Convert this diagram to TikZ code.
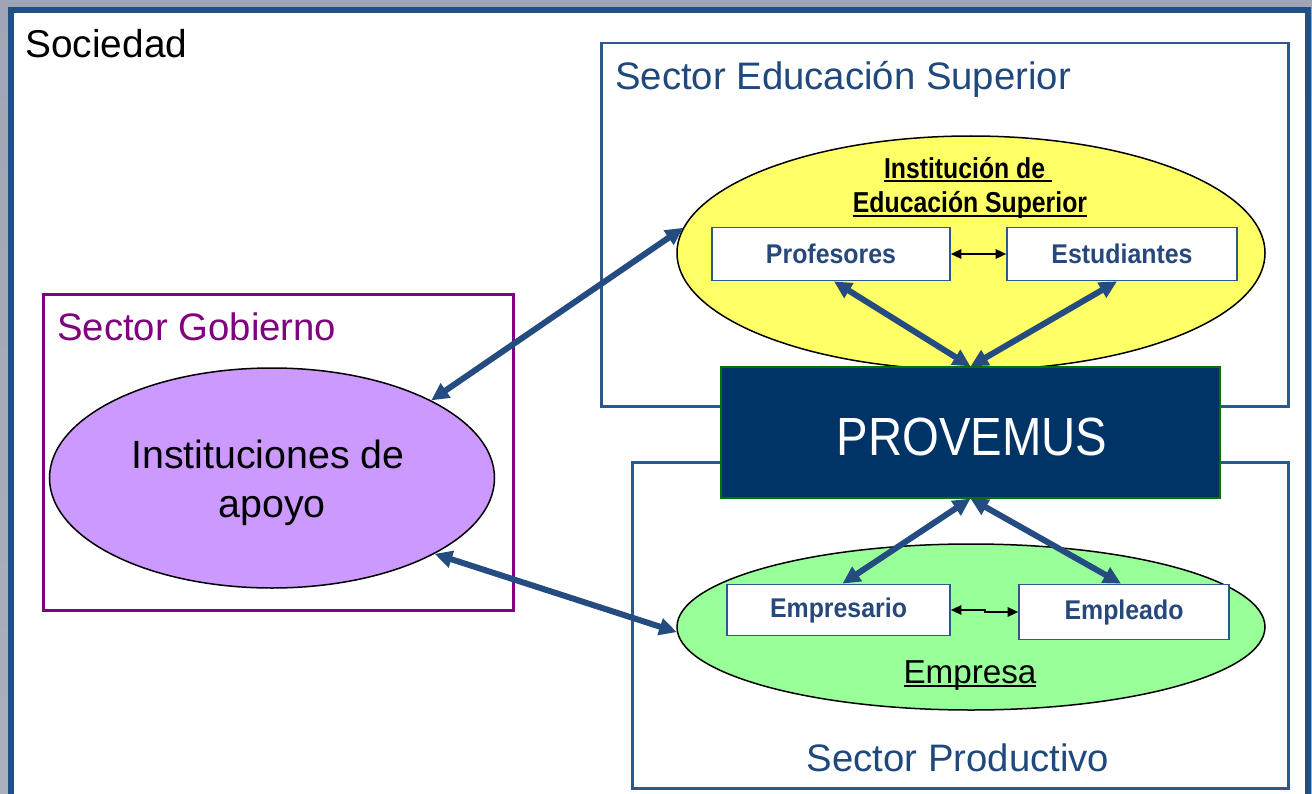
\documentclass[tikz,border=0pt]{standalone}
\usepackage{fontspec}
\setmainfont{Liberation Sans}
\usetikzlibrary{shapes.geometric,arrows.meta,calc}
\newdimen\pxu \pxu=0.02cm
\newcommand{\ulthick}[1]{\setbox0\hbox{#1}\rlap{\rule[-0.13em]{\wd0}{0.065em}}\box0}
\definecolor{frameblue}{RGB}{33,80,132}
\definecolor{secblue}{RGB}{44,88,140}
\definecolor{titleblue}{RGB}{31,73,125}
\definecolor{arrowblue}{RGB}{37,76,128}
\definecolor{navy}{RGB}{0,51,102}
\definecolor{govpurple}{RGB}{128,0,128}
\definecolor{lilac}{RGB}{204,153,255}
\definecolor{lightyellow}{RGB}{255,255,102}
\definecolor{lightgreen}{RGB}{153,255,153}
\definecolor{boxtext}{RGB}{38,72,122}
\definecolor{bgtop}{RGB}{160,164,180}
\definecolor{bgbot}{RGB}{172,176,188}
\tikzset{
  secbox/.style={draw=secblue, line width=2.5\pxu, anchor=north west, inner sep=0pt},
  govbox/.style={draw=govpurple, line width=2.5\pxu, anchor=north west, inner sep=0pt},
  blob/.style={ellipse, draw=black, line width=1.5\pxu, inner sep=0pt},
  smallbox/.style={draw=secblue, line width=1.8\pxu, fill=white, inner sep=0pt,
    text=boxtext, font=\fontsize{15.4pt}{18pt}\selectfont\bfseries},
  sectitle/.style={text=titleblue, font=\fontsize{21.8pt}{26pt}\selectfont, inner sep=0pt},
  bigarrow/.style={arrowblue, line width=6\pxu,
    {Triangle[length=10pt,width=9.5pt]}-{Triangle[length=10pt,width=9.5pt]}},
  thinarrow/.style={black, line width=1.3\pxu,
    {Triangle[length=6pt,width=5.5pt]}-{Triangle[length=6pt,width=5.5pt]}}
}
\begin{document}
\begin{tikzpicture}[x=0.02cm,y=-0.02cm]
\clip (0,0) rectangle (1312,794);
\shade[top color=bgtop, bottom color=bgbot] (0,0) rectangle (1312,794);
\fill[white] (11,10) rectangle (1308,820);
\draw[frameblue, line width=6\pxu] (11,10) rectangle (1308,820);

\node[anchor=base west, inner sep=0pt, font=\fontsize{22.1pt}{26pt}\selectfont] (soc) at (25,58) {Sociedad};

% sector boxes
\node[secbox, minimum width=687\pxu, minimum height=363\pxu] (ses) at (600,42) {};
\node[secbox, minimum width=656\pxu, minimum height=326\pxu] (sp) at (631,461) {};
\node[govbox, minimum width=470\pxu, minimum height=316\pxu] (sg) at (42,293) {};

\node[sectitle, anchor=base west] (sestitle) at (615,90) {Sector Educación Superior};
\node[sectitle, anchor=base] (sptitle) at (958,771) {Sector Productivo};
\node[sectitle, anchor=base west, text=govpurple] (sgtitle) at (57,340) {Sector Gobierno};

% ellipses
\node[blob, fill=lightyellow, minimum width=588\pxu, minimum height=234\pxu] (ies) at (971,253) {};
\node[blob, fill=lightgreen, minimum width=588\pxu, minimum height=166\pxu] (emp) at (971,627) {};
\node[blob, fill=lilac, minimum width=445\pxu, minimum height=220\pxu] (inst) at (272,478) {};

\node[anchor=base, inner sep=0pt, font=\fontsize{16.4pt}{19pt}\selectfont\bfseries] (ies1) at (968,178) {\scalebox{0.86}[1]{\ulthick{Institución de\ }}};
\node[anchor=base, inner sep=0pt, font=\fontsize{16.4pt}{19pt}\selectfont\bfseries] (ies2) at (970,213) {\scalebox{0.86}[1]{\ulthick{Educación Superior}}};

\node[anchor=base, inner sep=0pt, font=\fontsize{18.9pt}{22pt}\selectfont] (emptext) at (970,683) {\ulthick{Empresa}};

\node[anchor=base, inner sep=0pt, font=\fontsize{22.4pt}{27pt}\selectfont] (inst1) at (268,468) {Instituciones de};
\node[anchor=base, inner sep=0pt, font=\fontsize{22.4pt}{27pt}\selectfont] (inst2) at (272,517) {apoyo};

% small boxes
\node[smallbox, minimum width=238\pxu, minimum height=53\pxu] (prof) at (831,254) {\scalebox{0.92}[1]{Profesores}};
\node[smallbox, minimum width=230\pxu, minimum height=53\pxu] (estu) at (1122,254) {\scalebox{0.92}[1]{Estudiantes}};
\node[smallbox, minimum width=223\pxu, minimum height=51\pxu] (empr) at (838.5,610) {\scalebox{0.92}[1]{Empresario}};
\node[smallbox, minimum width=210\pxu, minimum height=55\pxu] (empl) at (1124,612) {\scalebox{0.92}[1]{Empleado}};

% PROVEMUS
\node[fill=navy, draw=green!45!black, line width=1.2\pxu, minimum width=499\pxu, minimum height=131\pxu, inner sep=0pt] (prov) at (970.5,432.5) {};
\node[anchor=base, inner sep=0pt, text=white, font=\fontsize{30.6pt}{36pt}\selectfont] (provtext) at (972,455) {\scalebox{0.88}[1]{PROVEMUS}};

% thin arrows
\draw[thinarrow] (prof.east) -- (estu.west);
\draw[thinarrow] (empr.east) -- ++(34,0) |- (empl.west);

% thick arrows
\draw[bigarrow] ([xshift=3\pxu]prof.south) -- (prov.north);
\draw[bigarrow] ([xshift=-5\pxu]estu.south) -- (prov.north);
\draw[bigarrow] (prov.south) -- ([xshift=4\pxu]empr.north);
\draw[bigarrow] (prov.south) -- ([xshift=-3\pxu]empl.north);
\draw[bigarrow] (inst.26.6) -- (ies.175);
\draw[bigarrow] (inst.-25) -- (emp.181);
\end{tikzpicture}
\end{document}
